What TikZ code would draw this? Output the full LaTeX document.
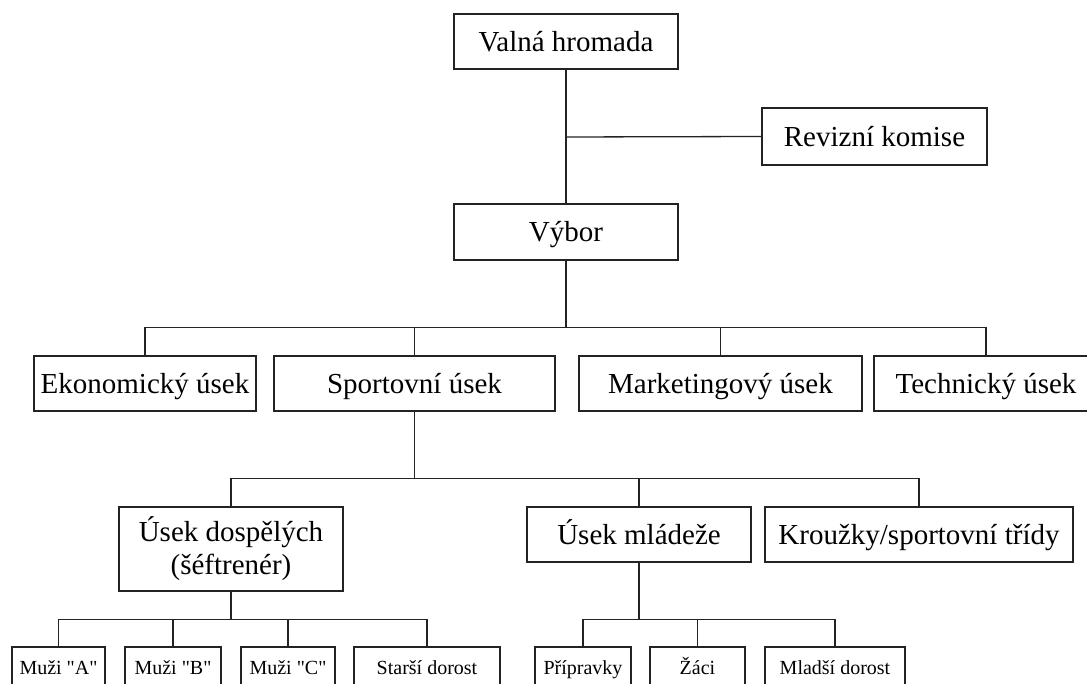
\documentclass[tikz,border=0pt]{standalone}
\usepackage{fontspec}
\setmainfont{Liberation Serif}[Ligatures=TeXOff]
\definecolor{ink}{RGB}{35,35,35}
\tikzset{
  box/.style={draw=ink, line width=1.3pt, fill=white, inner sep=0pt, align=center,
              font=\fontsize{29}{33}\selectfont, text height=19.2pt, text depth=0pt},
  small/.style={font=\fontsize{20}{24}\selectfont, text height=13.2pt},
  twoline/.style={text height={}, text depth={}},
  wire/.style={draw=ink, line width=1.3pt}
}
\newcommand{\orgbox}[7][]{% [options] name, x1, y1, x2, y2, text
  \node[box, #1, minimum width={#5-#3}, minimum height={#6-#4}] (#2) at ({(#3+#5)/2},{(#4+#6)/2}) {#7};}
\begin{document}
\begin{tikzpicture}[x=1pt, y=-1pt]
\useasboundingbox (0,0) rectangle (1087,684);
\clip (0,0) rectangle (1087,684);

% governing bodies
\orgbox{valna}{454}{14}{678}{69}{Valná hromada}
\orgbox{revize}{762}{108}{987}{165}{Revizní komise}
\orgbox{vybor}{454}{204}{678}{260}{Výbor}
\coordinate (rk) at (566,137);

\draw[wire] (valna.south) -- (vybor.north);
\draw[wire] (rk) -- (revize.west);

% sections
\orgbox{eko}{34}{356}{256}{411}{Ekonomický úsek}
\orgbox{sport}{274}{356}{555}{411}{Sportovní úsek}
\orgbox{mark}{579}{356}{862}{411}{Marketingový úsek}
\orgbox{tech}{874}{356}{1098}{411}{Technický úsek}

\foreach \c in {eko,sport,mark,tech}
  \draw[wire] (vybor.south) -- ++(0,67) -| (\c.north);

% sport section
\orgbox[twoline]{dosp}{119}{507}{343}{591}{Úsek dospělých\\(šéftrenér)}
\orgbox{mlad}{527}{507}{751}{562}{Úsek mládeže}
\orgbox{krouz}{765}{507}{1073}{562}{Kroužky/sportovní třídy}

\foreach \c in {dosp,mlad,krouz}
  \draw[wire] (sport.south) -- ++(0,67) -| (\c.north);

% teams
\orgbox[small]{muzA}{12}{647}{105}{688}{Muži "A"}
\orgbox[small]{muzB}{125}{647}{221}{688}{Muži "B"}
\orgbox[small]{muzC}{241}{647}{335}{688}{Muži "C"}
\orgbox[small]{stdor}{354}{647}{500}{688}{Starší dorost}
\orgbox[small]{pripr}{535}{647}{631}{688}{Přípravky}
\orgbox[small]{zaci}{650}{647}{745}{688}{Žáci}
\orgbox[small]{mldor}{765}{647}{905}{688}{Mladší dorost}

\foreach \c in {muzA,muzB,muzC,stdor}
  \draw[wire] (dosp.south) -- ++(0,28) -| (\c.north);
\foreach \c in {pripr,zaci,mldor}
  \draw[wire] (mlad.south) -- ++(0,57) -| (\c.north);
\end{tikzpicture}
\end{document}
